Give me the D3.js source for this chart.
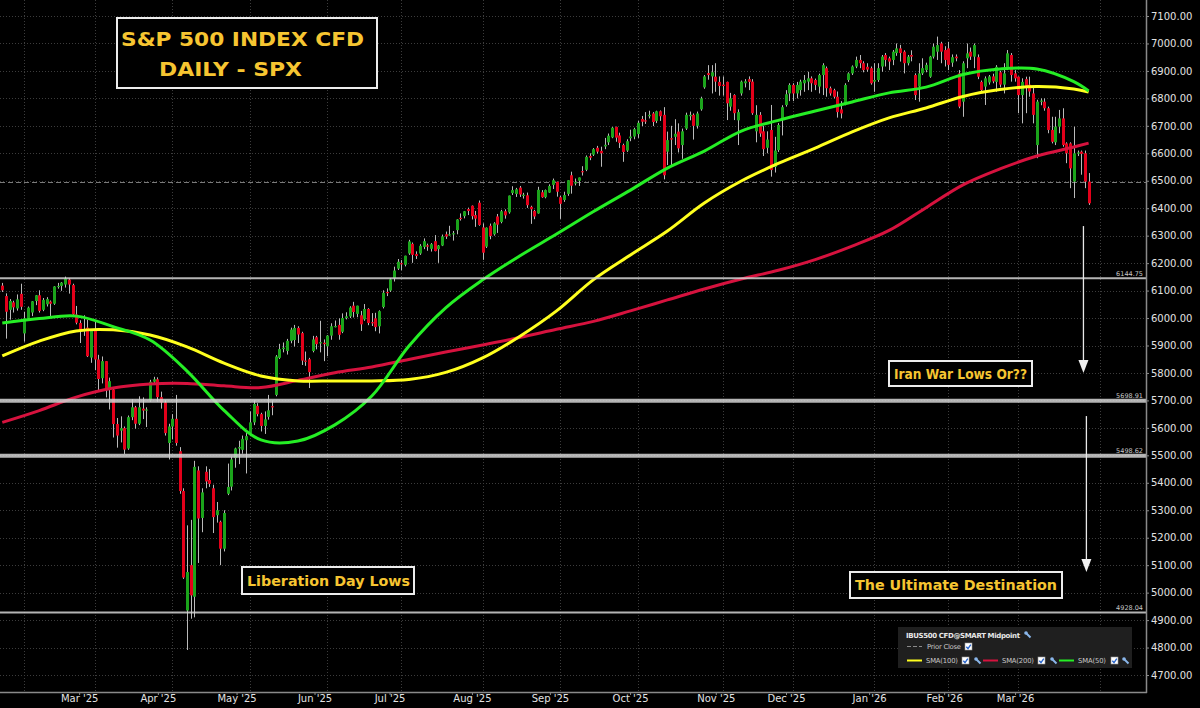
<!DOCTYPE html>
<html>
<head>
<meta charset="utf-8">
<script src="https://cdn.jsdelivr.net/npm/d3@7"></script>
<style>
html, body { margin: 0; padding: 0; background: #000; }
svg { display: block; font-family: "DejaVu Sans", sans-serif; }
</style>
</head>
<body>
<div id="chart"></div>
<script>
// daily bars [open, high, low, close], 24 Jan 2025 .. 27 Mar 2026 (index = bar number)
var candles = [
  [6118,6128,6095,6101],[6080,6090,5925,6023],[6030,6069,5994,6062],[6057,6063,6020,6039],[6035,6086,6027,6068],
  [6088,6125,6030,6041],[5944,6023,5914,5999],[5998,6042,5990,6038],[6020,6062,6007,6061],[6062,6084,6047,6083],
  [6083,6101,6020,6026],[6030,6073,6025,6066],[6050,6076,6042,6069],[6060,6064,6003,6052],[6052,6116,6048,6115],
  [6115,6128,6107,6117],[6117,6131,6099,6129],[6122,6151,6111,6144],[6140,6145,6089,6122],[6120,6125,6008,6013],
  [6013,6044,5977,5983],[5982,5992,5909,5955],[5955,6010,5935,5956],[5965,5994,5858,5861],[5856,5959,5837,5955],
  [5955,5987,5810,5849],[5849,5866,5733,5778],[5781,5860,5762,5843],[5843,5843,5711,5738],[5738,5783,5667,5770],
  [5740,5745,5565,5614],[5614,5636,5528,5572],[5590,5642,5547,5599],[5599,5605,5505,5521],[5525,5645,5520,5639],
  [5639,5704,5628,5675],[5675,5680,5597,5615],[5615,5715,5610,5675],[5670,5711,5632,5663],[5663,5675,5603,5667],
  [5700,5775,5695,5768],[5768,5786,5764,5777],[5777,5784,5695,5712],[5712,5732,5670,5693],[5693,5700,5572,5581],
  [5545,5615,5485,5605],[5605,5650,5558,5633],[5633,5720,5535,5545],[5515,5530,5360,5370],[5370,5380,5050,5055],
  [4935,5245,4791,5075],[5100,5265,4905,4990],[4985,5480,4910,5458],[5445,5460,5108,5270],[5272,5380,5220,5365],
  [5440,5460,5380,5405],[5410,5450,5385,5396],[5380,5393,5217,5275],[5282,5330,5255,5300],[5258,5262,5100,5160],
  [5160,5300,5150,5290],[5360,5470,5355,5385],[5386,5495,5372,5485],[5490,5528,5455,5525],[5525,5553,5468,5530],
  [5520,5572,5506,5560],[5555,5581,5434,5570],[5580,5660,5570,5620],[5620,5700,5610,5687],[5680,5690,5642,5650],
  [5650,5655,5587,5607],[5607,5660,5578,5631],[5640,5720,5630,5664],[5679,5700,5646,5675],[5720,5865,5715,5860],
  [5855,5906,5851,5887],[5887,5911,5875,5892],[5880,5924,5867,5917],[5917,5965,5908,5958],[5920,5975,5896,5964],
  [5964,5970,5909,5940],[5945,5950,5829,5845],[5845,5878,5826,5842],[5850,5855,5745,5803],[5880,5935,5875,5922],
  [5930,5935,5886,5905],[5910,5990,5875,5912],[5910,5922,5843,5905],[5897,5938,5861,5936],[5936,5981,5921,5970],
  [5970,5991,5966,5971],[5975,5999,5921,5939],[5950,6017,5945,6000],[6000,6021,5995,6006],[6006,6043,6000,6038],
  [6045,6059,6002,6022],[6015,6045,6003,6045],[6010,6026,5953,5977],[5995,6051,5990,6033],[6033,6036,5974,5982],
  [5985,6018,5971,5981],[5999,6019,5952,5967],[5970,6028,5944,6025],[6040,6101,6035,6092],[6095,6108,6080,6092],
  [6100,6146,6095,6141],[6145,6187,6133,6173],[6180,6215,6175,6205],[6200,6211,6174,6198],[6194,6227,6188,6227],
  [6235,6285,6230,6279],[6270,6275,6201,6230],[6233,6243,6215,6226],[6235,6269,6230,6263],[6259,6290,6251,6280],
  [6265,6271,6245,6260],[6252,6273,6242,6269],[6280,6302,6243,6244],[6251,6266,6201,6264],[6264,6304,6262,6297],
  [6305,6315,6288,6297],[6304,6336,6300,6305],[6306,6317,6282,6309],[6320,6360,6305,6359],[6365,6381,6355,6363],
  [6371,6390,6363,6389],[6397,6402,6375,6390],[6409,6410,6359,6371],[6375,6390,6332,6362],[6420,6428,6336,6339],
  [6330,6345,6212,6238],[6260,6330,6255,6329],[6336,6344,6287,6299],[6305,6349,6300,6345],[6370,6379,6310,6340],
  [6350,6394,6345,6389],[6389,6396,6362,6374],[6385,6446,6380,6446],[6455,6480,6448,6466],[6452,6474,6441,6469],
  [6475,6481,6441,6450],[6445,6456,6435,6449],[6447,6457,6401,6411],[6405,6409,6343,6396],[6390,6394,6360,6370],
  [6381,6478,6380,6467],[6458,6466,6438,6440],[6440,6468,6436,6466],[6457,6487,6456,6481],[6485,6508,6470,6502],
  [6496,6497,6442,6460],[6440,6445,6361,6416],[6430,6460,6423,6448],[6452,6502,6445,6502],[6520,6533,6453,6482],
  [6490,6508,6483,6495],[6500,6512,6481,6512],[6535,6553,6519,6532],[6540,6592,6535,6587],[6590,6600,6575,6584],
  [6595,6619,6590,6615],[6620,6627,6599,6606],[6609,6624,6551,6600],[6625,6656,6615,6631],[6640,6672,6630,6664],
  [6658,6696,6655,6693],[6696,6697,6642,6657],[6665,6675,6619,6638],[6630,6635,6569,6605],[6610,6651,6605,6644],
  [6655,6686,6644,6661],[6661,6693,6651,6688],[6670,6718,6656,6711],[6725,6736,6699,6715],[6720,6750,6707,6716],
  [6735,6755,6727,6740],[6745,6750,6699,6714],[6718,6755,6710,6753],[6753,6756,6718,6735],[6740,6768,6505,6520],
  [6606,6679,6557,6648],[6655,6700,6557,6650],[6660,6724,6630,6671],[6679,6709,6603,6618],[6630,6690,6580,6680],
  [6690,6748,6685,6740],[6735,6752,6720,6740],[6740,6745,6650,6700],[6700,6752,6690,6745],[6760,6806,6755,6800],
  [6840,6885,6835,6880],[6892,6921,6868,6885],[6880,6921,6818,6895],[6879,6928,6824,6861],[6860,6880,6810,6845],
  [6850,6880,6810,6845],[6860,6861,6721,6782],[6770,6820,6755,6800],[6812,6815,6721,6746],[6720,6760,6630,6750],
  [6818,6865,6810,6861],[6855,6870,6840,6862],[6870,6880,6830,6860],[6861,6870,6740,6746],[6680,6775,6640,6740],
  [6740,6750,6660,6672],[6680,6700,6590,6615],[6620,6680,6600,6650],[6685,6776,6515,6539],[6550,6660,6530,6610],
  [6612,6710,6605,6703],[6725,6775,6665,6768],[6776,6830,6770,6815],[6818,6855,6790,6849],[6849,6855,6790,6818],
  [6818,6860,6800,6849],[6830,6868,6810,6861],[6855,6885,6824,6867],[6861,6897,6830,6873],[6873,6880,6824,6855],
  [6867,6872,6830,6849],[6843,6890,6818,6885],[6885,6928,6812,6921],[6910,6916,6806,6837],[6837,6843,6810,6818],
  [6830,6835,6800,6806],[6806,6825,6730,6750],[6760,6790,6727,6745],[6782,6855,6775,6849],[6867,6895,6860,6891],
  [6891,6920,6885,6916],[6916,6952,6910,6940],[6940,6958,6910,6928],[6928,6935,6895,6903],[6915,6928,6897,6905],
  [6910,6916,6850,6855],[6861,6928,6824,6867],[6867,6928,6860,6910],[6916,6958,6897,6952],[6958,6965,6916,6940],
  [6946,6952,6903,6934],[6940,6976,6921,6970],[6965,7000,6955,6982],[6982,6995,6934,6965],[6970,6975,6891,6928],
  [6928,6958,6920,6952],[6958,6975,6935,6952],[6885,6891,6794,6812],[6843,6928,6788,6891],[6891,6946,6885,6910],
  [6903,6930,6895,6922],[6879,6955,6875,6952],[6952,7000,6945,6988],[6970,7025,6940,6994],[7000,7006,6928,6970],
  [6976,6990,6916,6940],[6982,7006,6903,6922],[6930,6960,6915,6950],[6952,6960,6935,6946],[6891,6903,6764,6770],
  [6788,6935,6733,6928],[6946,7000,6910,6964],[6970,6985,6940,6952],[6952,7000,6910,6994],[6950,6960,6870,6879],
  [6860,6865,6820,6830],[6843,6880,6776,6873],[6858,6885,6850,6880],[6880,6890,6855,6862],[6860,6921,6824,6915],
  [6895,6900,6840,6850],[6850,6928,6818,6891],[6910,6976,6903,6964],[6958,6965,6861,6885],[6891,6903,6861,6873],
  [6879,6880,6746,6812],[6812,6873,6709,6860],[6870,6879,6746,6843],[6850,6879,6806,6825],[6818,6843,6709,6740],
  [6630,6795,6582,6788],[6788,6800,6775,6792],[6788,6800,6755,6764],[6764,6770,6673,6685],[6685,6733,6636,6642],
  [6640,6733,6630,6697],[6697,6758,6673,6727],[6727,6764,6624,6630],[6636,6640,6564,6600],[6636,6640,6473,6545],
  [6497,6697,6437,6600],[6600,6610,6590,6603],[6606,6610,6522,6598],[6600,6610,6473,6497],[6497,6528,6412,6418]
];

// moving averages at these bar numbers
var smaIdx = [0,10,20,30,40,50,60,70,80,90,100,110,120,130,140,150,160,170,180,190,200,210,220,230,240,250,260,270,280,290,294];
var sma50  = [5982,5998,6007,5969,5920,5807,5664,5556,5552,5611,5716,5897,6037,6139,6226,6306,6388,6466,6546,6608,6681,6720,6754,6787,6820,6841,6887,6907,6907,6861,6827];
var sma100 = [5862,5916,5953,5957,5938,5895,5836,5789,5771,5771,5771,5776,5802,5855,5933,6026,6140,6230,6317,6419,6499,6563,6619,6678,6729,6765,6807,6832,6843,6834,6823];
var sma200 = [5620,5663,5712,5745,5760,5762,5753,5747,5773,5801,5822,5849,5876,5902,5929,5959,5988,6026,6066,6106,6142,6174,6213,6262,6319,6402,6485,6543,6590,6623,6637];

var monthLabels = ["Mar '25","Apr '25","May '25","Jun '25","Jul '25","Aug '25","Sep '25","Oct '25","Nov '25","Dec '25","Jan '26","Feb '26","Mar '26"];
var monthLabelAt = [20.8,42.1,63.4,84.5,104.8,127.1,148.2,169.9,193.1,212.1,234.6,254.9,274.1];
var monthStarts = [6,25,46,67,88,108,130,151,172,195,214,236,256,275,297];
var yTicks = [4700,4800,4900,5000,5100,5200,5300,5400,5500,5600,5700,5800,5900,6000,6100,6200,6300,6400,6500,6600,6700,6800,6900,7000,7100];

var levels = [6144.75, 5698.91, 5498.62, 4928.04];
var priorClose = 6497;

var width = 1200, height = 708,
    plotW = 1146, plotH = 692;

var x = d3.scaleLinear().domain([-0.6225, 309.53]).range([0, plotW]);
var y = d3.scaleLinear().domain([4700, 7100]).range([675, 16]);

var svg = d3.select('#chart').append('svg')
    .attr('width', width)
    .attr('height', height)
    .style('background', '#000');

svg.append('clipPath').attr('id', 'plot')
  .append('rect').attr('width', plotW).attr('height', plotH);

var plot = svg.append('g').attr('clip-path', 'url(#plot)');

// dotted grid
plot.selectAll('.hg').data(yTicks).enter().append('line')
    .attr('x1', 0).attr('x2', plotW)
    .attr('y1', function(d) { return Math.round(y(d)) + 0.5; })
    .attr('y2', function(d) { return Math.round(y(d)) + 0.5; })
    .style('stroke', '#3c3c3c').style('stroke-dasharray', '1,2');
plot.selectAll('.vg').data(monthStarts).enter().append('line')
    .attr('y1', 0).attr('y2', plotH)
    .attr('x1', function(d) { return Math.round(x(d)) + 0.5; })
    .attr('x2', function(d) { return Math.round(x(d)) + 0.5; })
    .style('stroke', '#3c3c3c').style('stroke-dasharray', '1,2');

// prior close
plot.append('line')
    .attr('x1', 0).attr('x2', plotW)
    .attr('y1', Math.round(y(priorClose)) + 0.5).attr('y2', Math.round(y(priorClose)) + 0.5)
    .style('stroke', '#7a7a7a').style('stroke-dasharray', '5,3');

// candles
var bars = plot.selectAll('.c').data(candles).enter().append('g');
bars.append('line')
    .attr('x1', function(d, i) { return Math.round(x(i)) + 0.5; })
    .attr('x2', function(d, i) { return Math.round(x(i)) + 0.5; })
    .attr('y1', function(d) { return y(d[1]); })
    .attr('y2', function(d) { return y(d[2]); })
    .style('stroke', '#bababa');
bars.append('rect')
    .attr('x', function(d, i) { return Math.round(x(i)) - 1; })
    .attr('width', 3)
    .attr('y', function(d) { return y(Math.max(d[0], d[3])); })
    .attr('height', function(d) { return Math.max(1.2, Math.abs(y(d[0]) - y(d[3]))); })
    .style('fill', function(d) { return d[3] >= d[0] ? '#1ba41b' : '#e3001a'; });

// moving averages
function smaLine(vals) {
  return d3.line()
    .x(function(d, i) { return x(smaIdx[i]); })
    .y(function(d) { return y(d); })
    .curve(d3.curveCatmullRom)(vals);
}
[[sma200, '#d6123e'], [sma100, '#ffff1e'], [sma50, '#25ee25']].forEach(function(s) {
  plot.append('path').attr('d', smaLine(s[0]))
      .style('fill', 'none').style('stroke', s[1]).style('stroke-width', 3);
});

// horizontal levels
plot.selectAll('.lv').data(levels).enter().append('line')
    .attr('x1', 0).attr('x2', plotW)
    .attr('y1', function(d) { return y(d); })
    .attr('y2', function(d) { return y(d); })
    .style('stroke', '#d4d4d4').style('opacity', 0.85)
    .style('stroke-width', function(d, i) { return (i === 1 || i === 2) ? 4 : 2; });
svg.selectAll('.lvt').data(levels).enter().append('text')
    .attr('x', 1143)
    .attr('y', function(d) { return y(d) - 2.5; })
    .attr('text-anchor', 'end')
    .style('font-size', '6.5px').style('fill', '#c8c8c8')
    .text(function(d) { return d.toFixed(2); });

// frame + axes
svg.append('line').attr('x1', plotW + 0.5).attr('x2', plotW + 0.5).attr('y1', 0).attr('y2', plotH + 1)
    .style('stroke', '#8a8a8a').style('stroke-width', 1.5);
svg.append('line').attr('x1', 0).attr('x2', plotW + 1).attr('y1', plotH + 0.5).attr('y2', plotH + 0.5)
    .style('stroke', '#8a8a8a').style('stroke-width', 1.5);

var yAxis = svg.append('g').attr('transform', 'translate(' + plotW + ',0)')
    .call(d3.axisRight(y).tickValues(yTicks).tickSize(3).tickPadding(2)
      .tickFormat(function(d) { return d3.format('.2f')(d); }));
var xAxis = svg.append('g').attr('transform', 'translate(0,' + plotH + ')')
    .call(d3.axisBottom(x).tickValues(monthLabelAt).tickSize(3).tickPadding(0)
      .tickFormat(function(d, i) { return monthLabels[i]; }));
[yAxis, xAxis].forEach(function(a) {
  a.select('.domain').remove();
  a.selectAll('line').style('stroke', '#8a8a8a');
  a.selectAll('text').style('fill', '#e2e2e2').style('font-size', '10px')
    .style('font-family', '"DejaVu Sans", sans-serif');
});

// arrows
var arrows = [[292.6, 6335, 5800], [293.4, 5643, 5075]];
arrows.forEach(function(a) {
  var ax = x(a[0]), y1 = y(a[1]), y2 = y(a[2]);
  svg.append('line').attr('x1', ax).attr('x2', ax).attr('y1', y1).attr('y2', y2 - 10)
      .style('stroke', '#e8e8e8').style('stroke-width', 1.3);
  svg.append('path')
      .attr('d', 'M' + (ax - 5) + ',' + (y2 - 13) + 'L' + (ax + 5) + ',' + (y2 - 13) + 'L' + ax + ',' + y2 + 'Z')
      .style('fill', '#f0f0f0');
});

// labelled boxes
var gold = '#f6c531';
function labelBox(bx, by, bw, bh, txt, tx, ty, tl, fs) {
  svg.append('rect').attr('x', bx).attr('y', by).attr('width', bw).attr('height', bh)
      .style('fill', '#000').style('stroke', '#ececec').style('stroke-width', 2);
  if (!txt) return;
  svg.append('text').attr('x', tx).attr('y', ty)
      .attr('textLength', tl).attr('lengthAdjust', 'spacingAndGlyphs')
      .style('fill', gold).style('font-weight', 'bold').style('font-size', fs + 'px')
      .text(txt);
}
labelBox(117, 18, 260, 70);
svg.append('text').attr('x', 121).attr('y', 45.5).attr('textLength', 243).attr('lengthAdjust', 'spacingAndGlyphs')
    .style('fill', gold).style('font-weight', 'bold').style('font-size', '20px').text('S&P 500 INDEX CFD');
svg.append('text').attr('x', 159).attr('y', 76).attr('textLength', 143).attr('lengthAdjust', 'spacingAndGlyphs')
    .style('fill', gold).style('font-weight', 'bold').style('font-size', '20px').text('DAILY - SPX');

labelBox(889, 361, 143, 25, 'Iran War Lows Or??', 894, 379, 133, 14);
labelBox(850, 572, 212, 26, 'The Ultimate Destination', 855, 590, 202, 14);
labelBox(242, 567, 172, 27, 'Liberation Day Lows', 247, 585.5, 163, 14);

// legend
var lg = svg.append('g');
lg.append('rect').attr('x', 898).attr('y', 627).attr('width', 234).attr('height', 41)
    .style('fill', '#1f1f1f');
function wrench(cx, cy) {
  lg.append('path')
      .attr('d', 'M' + (cx - 2.5) + ',' + (cy - 2.5) + 'L' + (cx + 2.5) + ',' + (cy + 2.5))
      .style('stroke', '#8ab6ea').style('stroke-width', 2);
  lg.append('circle').attr('cx', cx - 2).attr('cy', cy - 2).attr('r', 1.8).style('fill', '#8ab6ea');
}
function checkbox(bx, by) {
  lg.append('rect').attr('x', bx).attr('y', by).attr('width', 7).attr('height', 7)
      .style('fill', '#fff').style('stroke', '#9a9a9a').style('stroke-width', 0.6);
  lg.append('path').attr('d', 'M' + (bx + 1.3) + ',' + (by + 3.8) + 'l1.7,1.8l2.8,-4')
      .style('fill', 'none').style('stroke', '#2a66cc').style('stroke-width', 1.4);
}
lg.append('text').attr('x', 906).attr('y', 638).attr('textLength', 114)
    .style('fill', '#e8e8e8').style('font-size', '7px').style('font-weight', 'bold')
    .text('IBUS500 CFD@SMART Midpoint');
wrench(1028, 635);
lg.append('line').attr('x1', 907).attr('x2', 922).attr('y1', 646.5).attr('y2', 646.5)
    .style('stroke', '#8a8a8a').style('stroke-dasharray', '4,2');
lg.append('text').attr('x', 927).attr('y', 649).attr('textLength', 34)
    .style('fill', '#c8c8c8').style('font-size', '6.8px').text('Prior Close');
checkbox(965, 643);
var legendItems = [
  [907, '#ffff1e', 'SMA(100)', 926, 32, 962, 978],
  [983, '#d6123e', 'SMA(200)', 1002, 32, 1038, 1054],
  [1059, '#25ee25', 'SMA(50)', 1078, 28, 1111, 1126]
];
legendItems.forEach(function(it) {
  lg.append('line').attr('x1', it[0]).attr('x2', it[0] + 15).attr('y1', 660.5).attr('y2', 660.5)
      .style('stroke', it[1]).style('stroke-width', 2);
  lg.append('text').attr('x', it[3]).attr('y', 663).attr('textLength', it[4])
      .style('fill', '#c8c8c8').style('font-size', '6.8px').text(it[2]);
  checkbox(it[5], 657);
  wrench(it[6], 661);
});
</script>
</body>
</html>
